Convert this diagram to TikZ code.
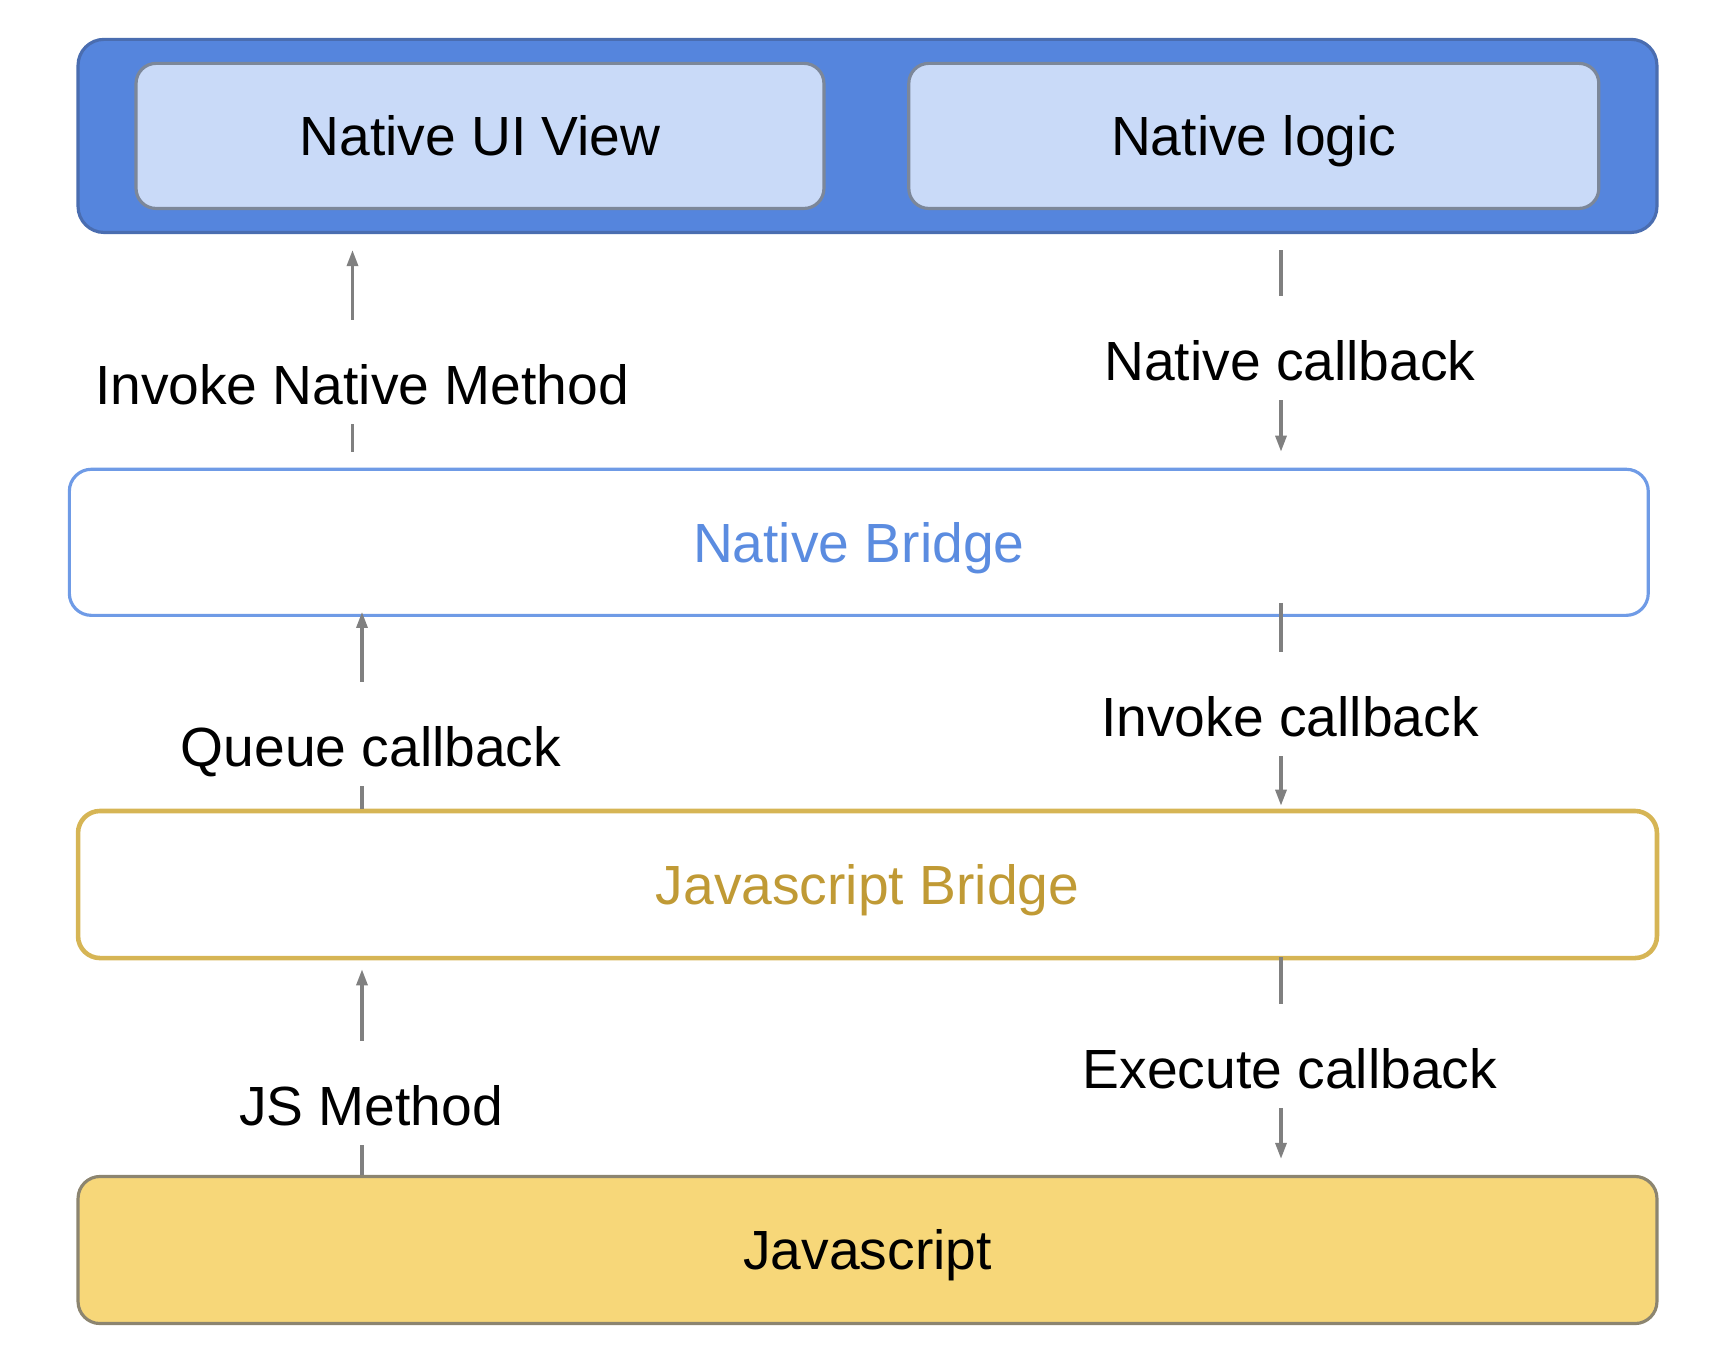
\documentclass[tikz,border=0pt]{standalone}
\usepackage{fontspec}
\setmainfont{Liberation Sans}
\usetikzlibrary{arrows.meta}
\definecolor{layerblue}{HTML}{5585DD}
\definecolor{layeredge}{HTML}{4A6DB0}
\definecolor{uiblue}{HTML}{C9DAF8}
\definecolor{uiedge}{HTML}{7C8799}
\definecolor{bridgeblue}{HTML}{6F9BE6}
\definecolor{bridgetext}{HTML}{5B8CE0}
\definecolor{bridgegold}{HTML}{D6B555}
\definecolor{goldtext}{HTML}{C09A35}
\definecolor{jsyellow}{HTML}{F7D779}
\definecolor{jsedge}{HTML}{8C8570}
\definecolor{linegray}{HTML}{808080}
\begin{document}
\begin{tikzpicture}[x=0.01cm, y=-0.01cm, every node/.style={font=\fontsize{15.7}{19}\selectfont}]
  \tikzstyle{layer}=[draw,rounded corners=0.22cm,minimum width=15.78cm,minimum height=1.46cm,align=center,line width=0.9pt,text height=11.3pt,text depth=0pt]
  \tikzstyle{callstep}=[text height=18.2pt,text depth=0pt,inner ysep=5.5pt,inner xsep=0pt]
  \tikzstyle{flow}=[draw=linegray,line width=0.9pt]
  \tikzstyle{tip}=[-{Triangle[length=0.16cm,width=0.11cm]}]
  \tikzstyle{fromgap}=[shorten <=0.16cm]
  \tikzstyle{togap}=[shorten >=0.16cm]
  \useasboundingbox (0,0) rectangle (1711,1350);
  % layers
  \node[layer,fill=layerblue,draw=layeredge,minimum height=1.93cm,rounded corners=0.26cm] (native) at (867.5,135.9) {};
  \node[layer,fill=uiblue,draw=uiedge,minimum width=6.875cm,minimum height=1.45cm,rounded corners=0.2cm] (uiview) at (480,135.9) {Native UI View};
  \node[layer,fill=uiblue,draw=uiedge,minimum width=6.896cm,minimum height=1.45cm,rounded corners=0.2cm] (logic) at (1253.8,135.9) {Native logic};
  \node[layer,draw=bridgeblue,text=bridgetext] (nbridge) at (858.8,542.3) {Native Bridge};
  \node[layer,draw=bridgegold,text=goldtext,line width=1.3pt,minimum height=1.47cm] (jsbridge) at (867.5,884.5) {Javascript Bridge};
  \node[layer,fill=jsyellow,draw=jsedge,minimum height=1.47cm] (js) at (867.5,1250) {Javascript};
  % call labels
  \node[callstep] (invnative) at (362,372) {Invoke Native Method};
  \node[callstep] (natcb) at (1290,348) {Native callback};
  \node[callstep] (queuecb) at (371,734) {Queue callback};
  \node[callstep] (invcb) at (1290,704) {Invoke callback};
  \node[callstep] (jsmethod) at (371,1093) {JS Method};
  \node[callstep] (execcb) at (1290,1056) {Execute callback};
  \coordinate (upA) at (352.5,0);
  \coordinate (upB) at (362,0);
  \coordinate (down) at (1281,0);
  % upward calls
  \draw[flow,fromgap] (nbridge.north -| upA) -- (invnative.south -| upA);
  \draw[flow,tip,togap] (invnative.north -| upA) -- (native.south -| upA);
  \draw[flow] (jsbridge.north -| upB) -- (queuecb.south -| upB);
  \draw[flow,tip,shorten >=-0.05cm] (queuecb.north -| upB) -- (nbridge.south -| upB);
  \draw[flow] (js.north -| upB) -- (jsmethod.south -| upB);
  \draw[flow,tip,shorten >=0.09cm] (jsmethod.north -| upB) -- (jsbridge.south -| upB);
  % callbacks
  \draw[flow,fromgap] (native.south -| down) -- (natcb.north -| down);
  \draw[flow,tip,togap] (natcb.south -| down) -- (nbridge.north -| down);
  \draw[flow,shorten <=-0.14cm] (nbridge.south -| down) -- (invcb.north -| down);
  \draw[flow,tip,shorten >=0.03cm] (invcb.south -| down) -- (jsbridge.north -| down);
  \draw[flow,shorten <=-0.03cm] (jsbridge.south -| down) -- (execcb.north -| down);
  \draw[flow,tip,togap] (execcb.south -| down) -- (js.north -| down);
\end{tikzpicture}
\end{document}
